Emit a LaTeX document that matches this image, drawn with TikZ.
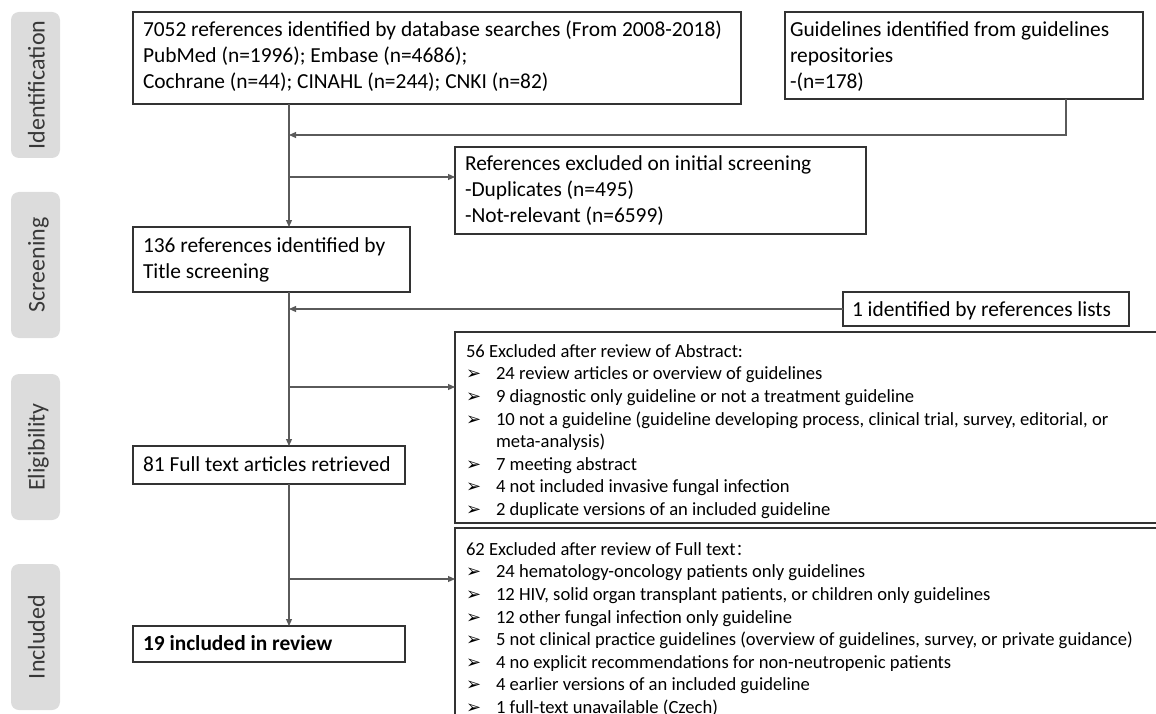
\documentclass[tikz,border=0pt]{standalone}
\usepackage{fontspec}
\setmainfont{Carlito}
\newfontfamily\bulfont{DejaVu Sans}
\newfontfamily\cjk{Noto Sans CJK SC}
\usetikzlibrary{arrows.meta}
\definecolor{lblfill}{HTML}{DCDCDC}
\definecolor{lbltext}{HTML}{383838}
\definecolor{boxline}{HTML}{333333}
\definecolor{conn}{HTML}{5A5A5A}
\newcommand{\bigtxt}{\fontsize{21.4}{26}\selectfont}
\newcommand{\smalltxt}{\fontsize{18.6}{22.6}\selectfont}
\newcommand{\bul}{\makebox[30pt][l]{\bulfont\fontsize{18}{18}\selectfont ➢}}
\newcommand{\boxtext}[4]{\parbox[c][#2][t]{#1}{\vspace*{#3}\raggedright\strut #4}}
\tikzset{
  box/.style={draw=boxline, line width=1.4pt, anchor=north west, inner xsep=10pt, inner ysep=0pt, outer sep=0pt, font=\bigtxt},
  lbl/.style={fill=lblfill, rounded corners=8pt, minimum width=146pt, minimum height=49pt, rotate=90, text=lbltext, font=\fontsize{24}{28}\selectfont, inner sep=0pt, text height=18pt, text depth=0pt},
  conn/.style={draw=conn, line width=1.1pt},
  arr/.style={conn, -{Triangle[length=7pt,width=6pt]}}
}
\begin{document}
\begin{tikzpicture}[x=1pt,y=-1pt]
\useasboundingbox (0,0) rectangle (1156,714);
\clip (0,0) rectangle (1156,714);
% stage labels
\node[lbl] (lid) at (35.5,85) {Identification};
\node[lbl] (lsc) at (35.5,265) {Screening};
\node[lbl] (lel) at (35.5,447) {Eligibility};
\node[lbl] (lin) at (35.5,637) {Included};
% boxes
\node[box] (db) at (133,12) {\boxtext{588pt}{92pt}{6.4pt}{\mbox{7052 references identified by database searches (From 2008-2018)}\\ PubMed (n=1996); Embase (n=4686);\\ Cochrane (n=44); CINAHL (n=244); CNKI (n=82)}};
\node[box, inner xsep=5pt] (gl) at (785,12) {\boxtext{348pt}{87pt}{6.8pt}{Guidelines identified from guidelines\\ repositories\\ -(n=178)}};
\node[box] (ex1) at (455,147) {\boxtext{391pt}{87pt}{5.8pt}{References excluded on initial screening\\ -Duplicates (n=495)\\ -Not-relevant (n=6599)}};
\node[box] (t136) at (133,227) {\boxtext{257pt}{65pt}{7.1pt}{136 references identified by\\ Title screening}};
\node[box, inner xsep=9pt] (r1) at (843,292) {\boxtext{268pt}{34pt}{5.8pt}{1 identified by references lists}};
\node[box, font=\smalltxt, inner xsep=11pt] (ex2) at (455,332) {\boxtext{718pt}{191pt}{9.5pt}{56 Excluded after review of Abstract:\\
\bul 24 review articles or overview of guidelines\\
\bul 9 diagnostic only guideline or not a treatment guideline\\
\bul \mbox{10 not a guideline (guideline developing process, clinical trial, survey, editorial, or}\\
\hspace*{30pt}meta-analysis)\\
\bul 7 meeting abstract\\
\bul 4 not included invasive fungal infection\\
\bul 2 duplicate versions of an included guideline}};
\node[box] (t81) at (133,446) {\boxtext{252pt}{38pt}{7.5pt}{81 Full text articles retrieved}};
\node[box, font=\smalltxt, inner xsep=11pt] (ex3) at (455,528) {\boxtext{718pt}{240pt}{11.5pt}{62 Excluded after review of Full text{\cjk\fontsize{16}{16}\selectfont ：}\\
\bul 24 hematology-oncology patients only guidelines\\
\bul 12 HIV, solid organ transplant patients, or children only guidelines\\
\bul 12 other fungal infection only guideline\\
\bul \mbox{5 not clinical practice guidelines (overview of guidelines, survey, or private guidance)}\\
\bul 4 no explicit recommendations for non-neutropenic patients\\
\bul 4 earlier versions of an included guideline\\
\bul 1 full-text unavailable (Czech)}};
\node[box] (t19) at (133,626) {\boxtext{252pt}{36pt}{6.5pt}{\bfseries 19 included in review}};
% trunk coordinates
\coordinate (tx) at (289,0);
\coordinate (gj) at (1066,135);
\coordinate (b1) at (289,177);
\coordinate (b2) at (289,387);
\coordinate (b3) at (289,579);
% connectors
\draw[arr] (tx |- db.south) -- (tx |- t136.north);
\draw[arr] (tx |- t136.south) -- (tx |- t81.north);
\draw[arr] (tx |- t81.south) -- (tx |- t19.north);
\draw[arr] (gl.south -| gj) -- (gj) -- (tx |- gj);
\draw[arr] (r1.west) -- (tx |- r1.west);
\draw[arr] (b1) -- (b1 -| ex1.west);
\draw[arr] (b2) -- (b2 -| ex2.west);
\draw[arr] (b3) -- (b3 -| ex3.west);
\end{tikzpicture}
\end{document}
